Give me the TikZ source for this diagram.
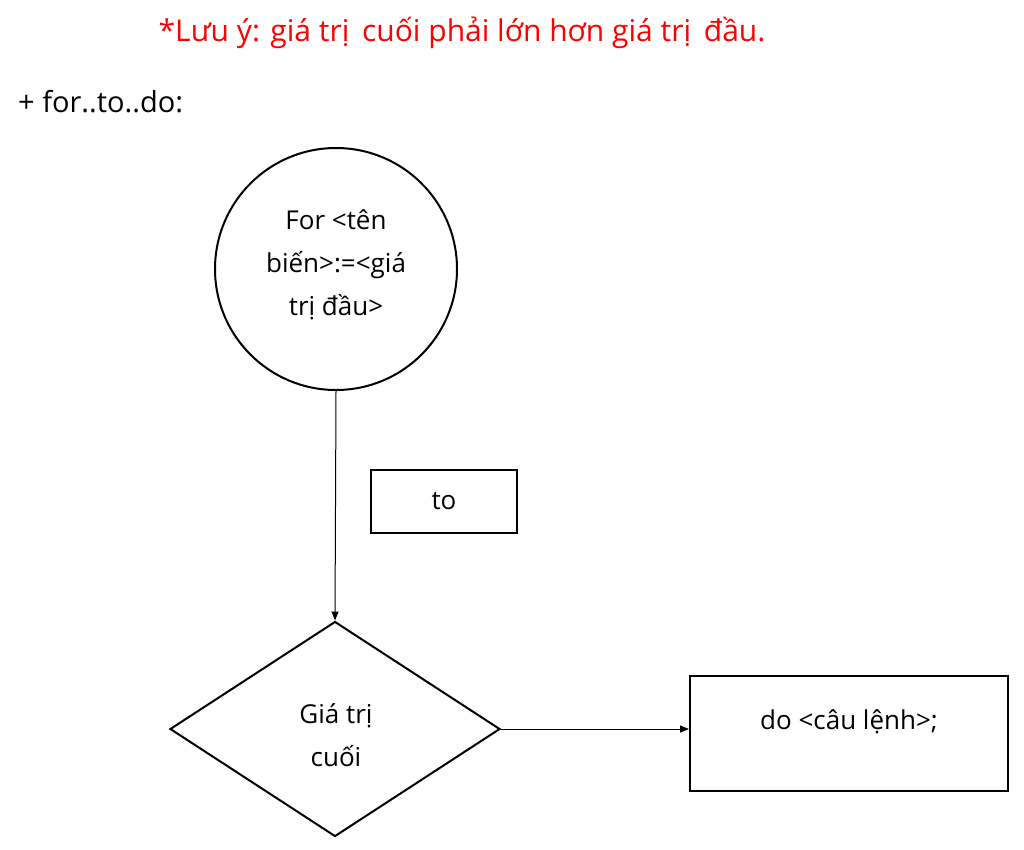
\documentclass[tikz,border=0pt]{standalone}
\usepackage{fontspec}
\setmainfont{Open Sans}
\usetikzlibrary{shapes.geometric,arrows.meta}
\begin{document}
\begin{tikzpicture}[x=1pt,y=-1pt,
  shapeline/.style={draw=black,line width=2pt},
  lbl/.style={font=\fontsize{26}{43}\selectfont,align=center,inner sep=0pt},
  conn/.style={line width=1pt,-{Triangle[length=9pt,width=7pt]}}]
\useasboundingbox (0,0) rectangle (1024,849);
\node[text=red,font=\fontsize{30}{34}\selectfont,inner sep=0pt] (note) at (462,33) {*Lưu ý: giá trị\, cuối phải lớn hơn giá trị\, đầu.};
\node[anchor=west,font=\fontsize{29}{32}\selectfont,inner sep=0pt] (head) at (18,102) {+ for..to..do:};
\node[shapeline,circle,minimum size=242pt,inner sep=0pt] (start) at (336,269) {};
\node[lbl] (starttxt) at (336,265) {For <tên\\biến>:=<giá\\trị đầu>};
\node[shapeline,rectangle,minimum width=146pt,minimum height=63pt,inner sep=0pt] (to) at (444,501.5) {};
\node[lbl] at (to) {to};
\node[shapeline,diamond,minimum width=330pt,minimum height=215pt,inner sep=0pt,aspect=1.53] (cond) at (335,729) {};
\node[lbl] (condtxt) at (336,735) {Giá trị\\cuối};
\node[shapeline,rectangle,minimum width=318pt,minimum height=115pt,inner sep=0pt] (body) at (849,733.5) {};
\node[lbl] at (849,722) {do <câu lệnh>;};
\draw[conn] (start.south) -- (cond.north);
\draw[conn] (cond.east) -- (cond.east -| body.west);
\end{tikzpicture}
\end{document}
